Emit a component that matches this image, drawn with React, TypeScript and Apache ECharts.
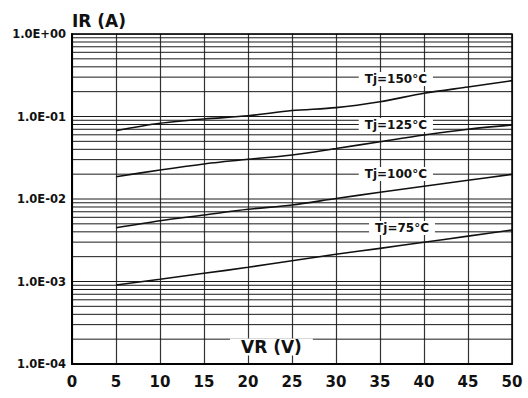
import React, { useEffect, useRef } from "react";
import * as echarts from "echarts";

const vrValues = [5, 10, 15, 20, 25, 30, 35, 40, 45, 50];
const ir150 = [0.0673, 0.0827, 0.0933, 0.102, 0.118, 0.128, 0.151, 0.191, 0.228, 0.272];
const ir125 = [0.0186, 0.0225, 0.0266, 0.0303, 0.0341, 0.0409, 0.0495, 0.0597, 0.07, 0.0789];
const ir100 = [0.00449, 0.00546, 0.0064, 0.0075, 0.00846, 0.01014, 0.01206, 0.01425, 0.01686, 0.0199];
const ir75 = [0.000907, 0.001064, 0.001257, 0.001486, 0.001786, 0.002136, 0.002523, 0.00299, 0.00355, 0.00421];

const curveNames = ["Tj=150°C", "Tj=125°C", "Tj=100°C", "Tj=75°C"];
const labelX = [36.8, 36.8, 36.8, 37.5];
const labelY = [0.285, 0.0789, 0.0201, 0.00445];

const decades = [-4, -3, -2, -1];
const mantissas = [1, 2, 3, 4, 5, 6, 7, 8, 9];
const xMin = 0;
const xMax = 50;

function fmtExp(v: number): string {
  const e = Math.round(Math.log10(v));
  const sign = e < 0 ? "-" : "+";
  const a = Math.abs(e);
  return "1.0E" + sign + (a < 10 ? "0" + a : "" + a);
}

export default function App() {
  const ref = useRef<HTMLDivElement>(null);
  useEffect(() => {
    if (!ref.current) return;
    const chart = echarts.init(ref.current, undefined, { renderer: "svg" });
    const gridValues: number[] = [];
    decades.forEach((d) => mantissas.forEach((m) => gridValues.push(m * Math.pow(10, d))));
    gridValues.push(1);
    const curves = [ir150, ir125, ir100, ir75];
    const font = "DejaVu Sans, Verdana, sans-serif";
    const series: any[] = gridValues.map((v) => ({
      type: "line",
      data: [
        [xMin, v],
        [xMax, v],
      ],
      showSymbol: false,
      silent: true,
      lineStyle: { color: "#1a1a1a", width: 1 },
      z: 1,
    }));
    curves.forEach((arr, i) => {
      series.push({
        type: "line",
        name: curveNames[i],
        data: arr.map((v, j) => [vrValues[j], v]),
        showSymbol: false,
        smooth: 0.3,
        lineStyle: { color: "#111", width: 1.6 },
        z: 5,
        markPoint: {
          silent: true,
          symbol: "circle",
          symbolSize: 1,
          itemStyle: { color: "rgba(0,0,0,0)" },
          data: [{ coord: [labelX[i], labelY[i]] }],
          label: {
            show: true,
            position: "inside",
            formatter: curveNames[i],
            color: "#111",
            fontFamily: font,
            fontWeight: "bold",
            fontSize: 12,
            backgroundColor: "#fff",
            padding: [1, 6, 1, 6],
          },
        },
      });
    });
    chart.setOption({
      animation: false,
      backgroundColor: "#fff",
      grid: { left: 72, right: 16, top: 34, bottom: 34, containLabel: false },
      xAxis: {
        type: "value",
        min: xMin,
        max: xMax,
        interval: 5,
        axisLine: { show: true, lineStyle: { color: "#000", width: 2 } },
        axisTick: { show: false },
        splitLine: { show: true, lineStyle: { color: "#333", width: 1.2 } },
        axisLabel: {
          color: "#111",
          fontFamily: font,
          fontWeight: "bold",
          fontSize: 15,
          margin: 10,
        },
      },
      yAxis: {
        type: "log",
        logBase: 10,
        min: 0.0001,
        max: 1,
        axisLine: { show: true, lineStyle: { color: "#000", width: 2 } },
        axisTick: { show: false },
        splitLine: { show: false },
        axisLabel: {
          color: "#111",
          fontFamily: font,
          fontWeight: "bold",
          fontSize: 11.5,
          margin: 6,
          formatter: (v: number) => fmtExp(v),
        },
      },
      graphic: [
        {
          type: "rect",
          shape: { x: 72, y: 34, width: 440, height: 330 },
          style: { fill: "none", stroke: "#000", lineWidth: 1.5 },
          z: 10,
          silent: true,
        },
        {
          type: "text",
          x: 72,
          y: 21,
          style: {
            text: "IR (A)",
            fill: "#111",
            font: "bold 17px DejaVu Sans, Verdana, sans-serif",
            verticalAlign: "middle",
          },
        },
        {
          type: "text",
          x: 230,
          y: 347,
          z: 20,
          style: {
            text: "VR (V)",
            fill: "#111",
            font: "bold 17px DejaVu Sans, Verdana, sans-serif",
            verticalAlign: "middle",
            backgroundColor: "#fff",
            padding: [0, 11, 0, 11],
          },
        },
      ],
      series,
    });
    return () => chart.dispose();
  }, []);
  return (
    <div
      ref={ref}
      style={{ position: "fixed", left: 0, top: 0, width: 528, height: 398 }}
    />
  );
}
